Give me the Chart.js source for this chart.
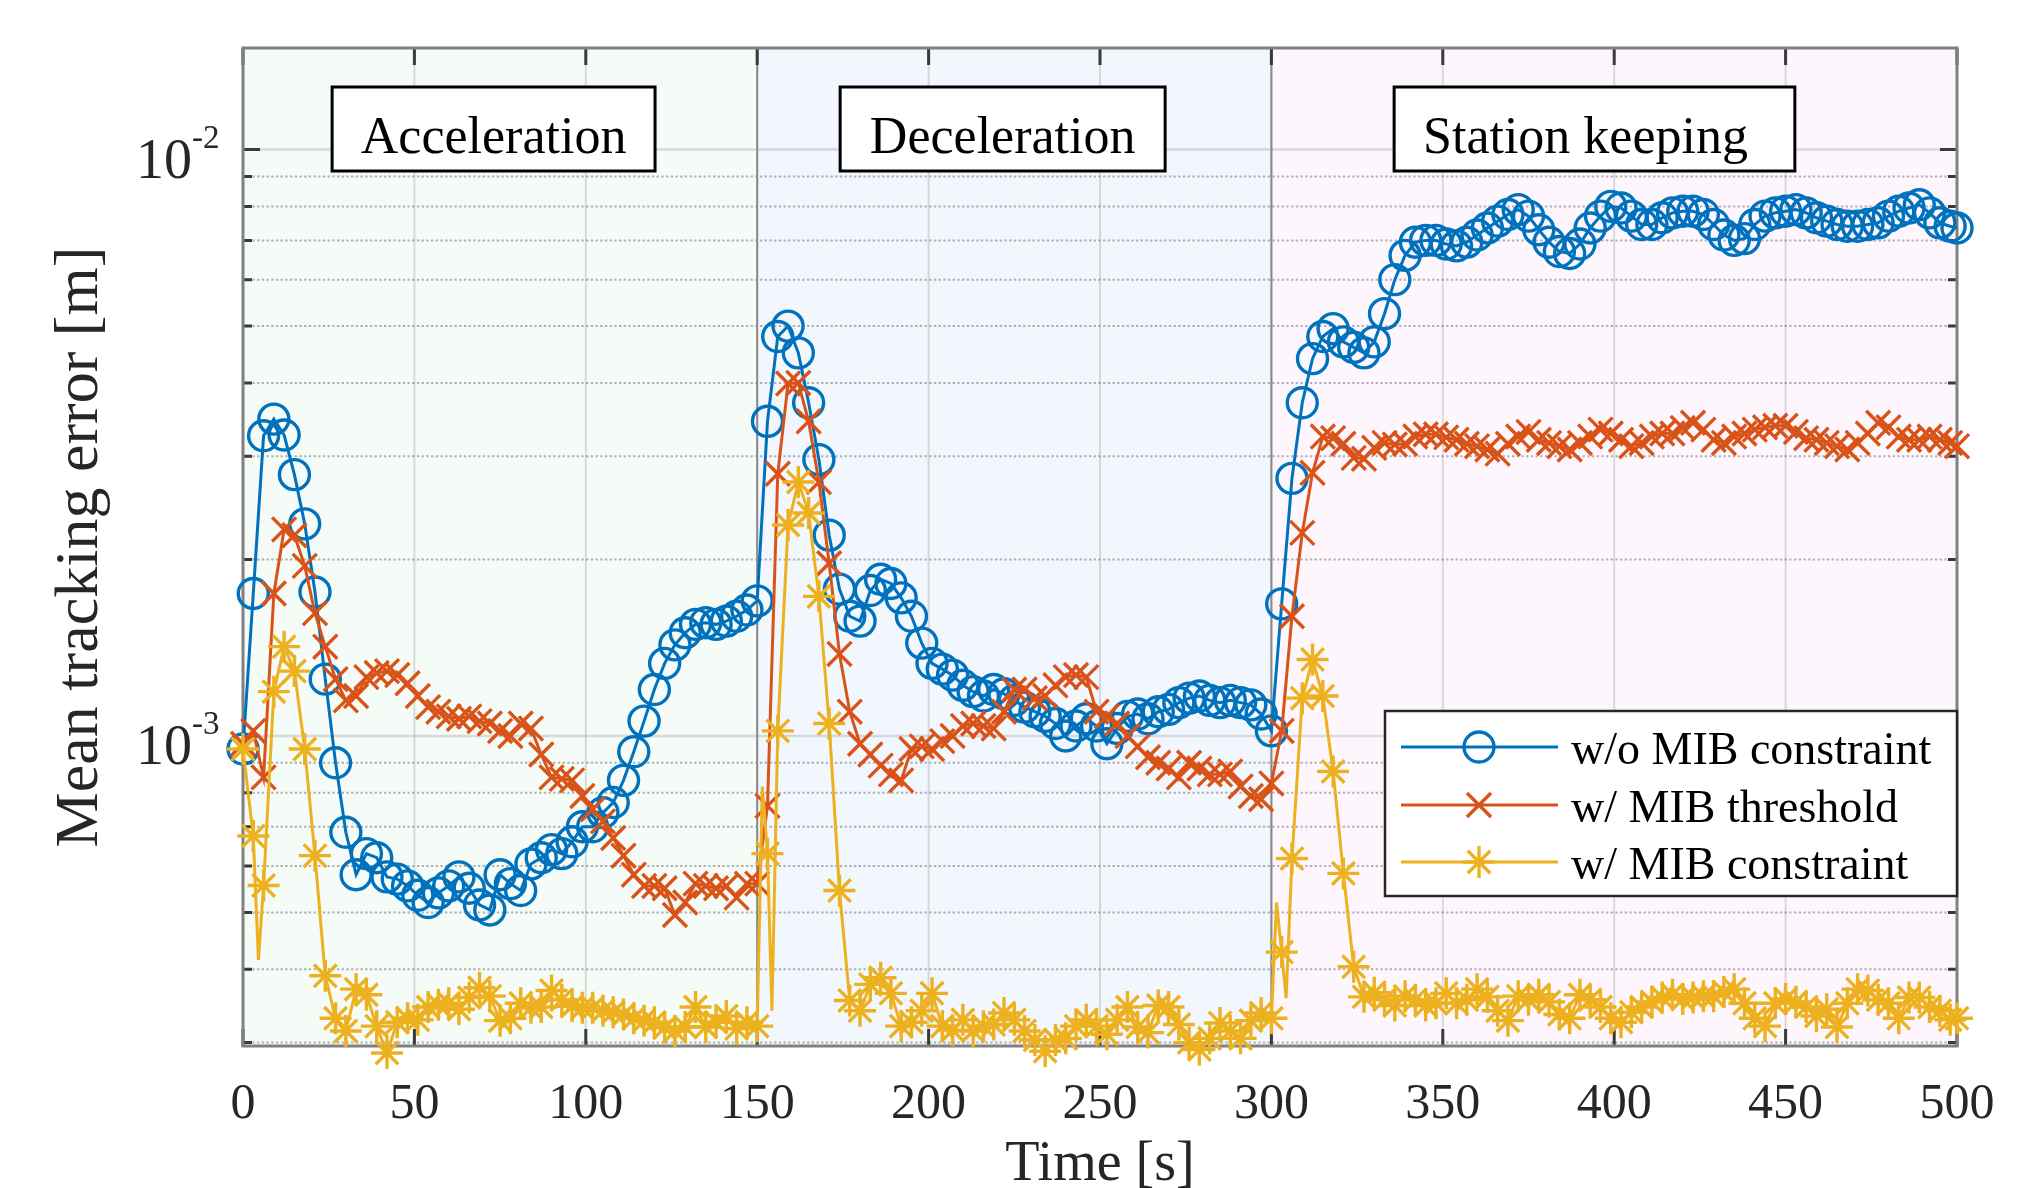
<!DOCTYPE html>
<html>
<head>
<meta charset="utf-8">
<title>Mean tracking error</title>
<script src="https://cdn.jsdelivr.net/npm/chart.js@4.4.1/dist/chart.umd.min.js"></script>
<style>
  html, body { margin: 0; padding: 0; background: #fff; }
  #wrap { width: 2020px; height: 1188px; }
</style>
</head>
<body>
<div id="wrap"><canvas id="errChart" width="2020" height="1188"></canvas></div>
<script>
// marker samples every 3 s, plus the last sample at 500 s
const sampleTimes = [];
for (let t = 0; t <= 498; t += 3) sampleTimes.push(t);
sampleTimes.push(500);

const xTickValues = [0, 50, 100, 150, 200, 250, 300, 350, 400, 450, 500];
const yGridValues = [3e-4, 4e-4, 5e-4, 6e-4, 7e-4, 8e-4, 9e-4, 1e-3,
  2e-3, 3e-3, 4e-3, 5e-3, 6e-3, 7e-3, 8e-3, 9e-3, 1e-2];
const yDecades = [1e-3, 1e-2];
const yExponents = ['-3', '-2'];

const phaseNames = ['Acceleration', 'Deceleration', 'Station keeping'];
const phaseEdges = [0, 150, 300, 500];
const seriesLabels = ['w/o MIB constraint', 'w/ MIB threshold', 'w/ MIB constraint'];

// w/o MIB constraint
const noMibAccel = [
  9.5e-4, 1.75e-3, 3.25e-3, 3.47e-3, 3.26e-3, 2.79e-3, 2.3e-3, 1.76e-3, 1.25e-3, 9.0e-4,
  6.85e-4, 5.8e-4, 6.3e-4, 6.2e-4, 5.75e-4, 5.7e-4, 5.55e-4, 5.35e-4, 5.2e-4, 5.4e-4,
  5.55e-4, 5.75e-4, 5.5e-4, 5.15e-4, 5.05e-4, 5.8e-4, 5.6e-4, 5.45e-4, 6.05e-4, 6.2e-4,
  6.4e-4, 6.3e-4, 6.6e-4, 7.0e-4, 7.0e-4, 7.4e-4, 7.7e-4, 8.4e-4, 9.4e-4, 1.06e-3,
  1.2e-3, 1.33e-3, 1.43e-3, 1.5e-3, 1.55e-3, 1.56e-3, 1.55e-3, 1.57e-3, 1.6e-3, 1.64e-3
];
const noMibDecel = [
  1.7e-3, 3.44e-3, 4.8e-3, 5.0e-3, 4.5e-3, 3.7e-3, 2.96e-3, 2.2e-3, 1.78e-3, 1.6e-3,
  1.57e-3, 1.77e-3, 1.85e-3, 1.82e-3, 1.72e-3, 1.6e-3, 1.44e-3, 1.33e-3, 1.3e-3, 1.27e-3,
  1.22e-3, 1.19e-3, 1.17e-3, 1.2e-3, 1.18e-3, 1.15e-3, 1.12e-3, 1.1e-3, 1.08e-3, 1.05e-3,
  1.0e-3, 1.04e-3, 1.07e-3, 1.04e-3, 9.7e-4, 1.03e-3, 1.08e-3, 1.09e-3, 1.07e-3, 1.1e-3,
  1.11e-3, 1.14e-3, 1.16e-3, 1.17e-3, 1.15e-3, 1.14e-3, 1.15e-3, 1.14e-3, 1.13e-3, 1.09e-3
];
const noMibStation = [
  1.02e-3, 1.68e-3, 2.75e-3, 3.7e-3, 4.4e-3, 4.8e-3, 4.95e-3, 4.7e-3, 4.6e-3, 4.5e-3,
  4.7e-3, 5.25e-3, 6.0e-3, 6.6e-3, 6.95e-3, 7.0e-3, 7.0e-3, 6.9e-3, 6.85e-3, 6.95e-3,
  7.15e-3, 7.35e-3, 7.55e-3, 7.75e-3, 7.9e-3, 7.7e-3, 7.3e-3, 6.95e-3, 6.7e-3, 6.65e-3,
  6.9e-3, 7.35e-3, 7.7e-3, 8.0e-3, 7.95e-3, 7.7e-3, 7.45e-3, 7.45e-3, 7.65e-3, 7.8e-3,
  7.85e-3, 7.85e-3, 7.75e-3, 7.45e-3, 7.15e-3, 7.0e-3, 7.05e-3, 7.45e-3, 7.7e-3, 7.8e-3,
  7.85e-3, 7.9e-3, 7.8e-3, 7.65e-3, 7.55e-3, 7.45e-3, 7.4e-3, 7.4e-3, 7.45e-3, 7.5e-3,
  7.7e-3, 7.85e-3, 7.95e-3, 8.05e-3, 7.8e-3, 7.5e-3, 7.4e-3,
  7.35e-3
];

// w/ MIB threshold
const thresholdAccel = [
  9.7e-4, 1.02e-3, 8.5e-4, 1.75e-3, 2.25e-3, 2.2e-3, 1.95e-3, 1.62e-3, 1.42e-3, 1.25e-3,
  1.15e-3, 1.17e-3, 1.26e-3, 1.28e-3, 1.29e-3, 1.27e-3, 1.23e-3, 1.17e-3, 1.12e-3, 1.1e-3,
  1.08e-3, 1.07e-3, 1.08e-3, 1.06e-3, 1.05e-3, 1.02e-3, 1.0e-3, 1.05e-3, 1.03e-3, 9.3e-4,
  8.5e-4, 8.45e-4, 8.4e-4, 7.9e-4, 7.5e-4, 7.15e-4, 6.7e-4, 6.25e-4, 5.8e-4, 5.55e-4,
  5.55e-4, 5.5e-4, 4.95e-4, 5.2e-4, 5.6e-4, 5.55e-4, 5.5e-4, 5.55e-4, 5.3e-4, 5.6e-4
];
const thresholdDecel = [
  5.6e-4, 7.6e-4, 2.8e-3, 3.99e-3, 4.0e-3, 3.44e-3, 2.71e-3, 1.97e-3, 1.38e-3, 1.1e-3,
  9.7e-4, 9.3e-4, 8.9e-4, 8.6e-4, 8.4e-4, 9.5e-4, 9.6e-4, 9.5e-4, 9.8e-4, 1.0e-3,
  1.04e-3, 1.05e-3, 1.04e-3, 1.03e-3, 1.1e-3, 1.2e-3, 1.2e-3, 1.16e-3, 1.17e-3, 1.22e-3,
  1.26e-3, 1.27e-3, 1.26e-3, 1.1e-3, 1.08e-3, 1.05e-3, 1.0e-3, 9.6e-4, 9.2e-4, 9.0e-4,
  8.8e-4, 8.5e-4, 9.0e-4, 8.8e-4, 8.6e-4, 8.6e-4, 8.7e-4, 8.2e-4, 7.9e-4, 7.8e-4
];
const thresholdStation = [
  8.3e-4, 1.02e-3, 1.6e-3, 2.22e-3, 2.81e-3, 3.24e-3, 3.22e-3, 3.15e-3, 2.98e-3, 2.97e-3,
  3.1e-3, 3.16e-3, 3.14e-3, 3.15e-3, 3.24e-3, 3.27e-3, 3.27e-3, 3.23e-3, 3.2e-3, 3.15e-3,
  3.12e-3, 3.08e-3, 3.03e-3, 3.15e-3, 3.24e-3, 3.3e-3, 3.2e-3, 3.16e-3, 3.12e-3, 3.08e-3,
  3.16e-3, 3.24e-3, 3.33e-3, 3.28e-3, 3.2e-3, 3.12e-3, 3.16e-3, 3.24e-3, 3.28e-3, 3.28e-3,
  3.35e-3, 3.42e-3, 3.33e-3, 3.2e-3, 3.16e-3, 3.24e-3, 3.28e-3, 3.33e-3, 3.36e-3, 3.38e-3,
  3.38e-3, 3.3e-3, 3.22e-3, 3.2e-3, 3.16e-3, 3.12e-3, 3.08e-3, 3.16e-3, 3.28e-3, 3.42e-3,
  3.36e-3, 3.24e-3, 3.2e-3, 3.2e-3, 3.24e-3, 3.2e-3, 3.16e-3,
  3.12e-3
];

// w/ MIB constraint
const constraintAccel = [
  9.5e-4, 6.75e-4, 5.56e-4, 1.19e-3, 1.42e-3, 1.29e-3, 9.5e-4, 6.25e-4, 3.9e-4, 3.3e-4,
  3.14e-4, 3.7e-4, 3.62e-4, 3.2e-4, 2.88e-4, 3.25e-4, 3.3e-4, 3.28e-4, 3.45e-4, 3.48e-4,
  3.5e-4, 3.42e-4, 3.58e-4, 3.72e-4, 3.6e-4, 3.27e-4, 3.3e-4, 3.5e-4, 3.44e-4, 3.45e-4,
  3.68e-4, 3.55e-4, 3.46e-4, 3.44e-4, 3.44e-4, 3.4e-4, 3.38e-4, 3.35e-4, 3.3e-4, 3.27e-4,
  3.25e-4, 3.18e-4, 3.14e-4, 3.19e-4, 3.45e-4, 3.19e-4, 3.25e-4, 3.33e-4, 3.17e-4, 3.25e-4
];
const constraintDecel = [
  3.2e-4, 6.3e-4, 1.02e-3, 2.29e-3, 2.71e-3, 2.4e-3, 1.73e-3, 1.05e-3, 5.45e-4, 3.54e-4,
  3.4e-4, 3.77e-4, 3.87e-4, 3.64e-4, 3.2e-4, 3.25e-4, 3.4e-4, 3.64e-4, 3.2e-4, 3.15e-4,
  3.28e-4, 3.14e-4, 3.2e-4, 3.22e-4, 3.37e-4, 3.28e-4, 3.14e-4, 3.03e-4, 2.9e-4, 3.03e-4,
  3.05e-4, 3.2e-4, 3.28e-4, 3.2e-4, 3.1e-4, 3.28e-4, 3.45e-4, 3.19e-4, 3.12e-4, 3.47e-4,
  3.45e-4, 3.22e-4, 3.0e-4, 2.92e-4, 3.05e-4, 3.24e-4, 3.14e-4, 3.05e-4, 3.27e-4, 3.37e-4
];
const constraintStation = [
  3.3e-4, 4.28e-4, 6.18e-4, 1.16e-3, 1.35e-3, 1.17e-3, 8.7e-4, 5.83e-4, 4.04e-4, 3.59e-4,
  3.65e-4, 3.55e-4, 3.47e-4, 3.6e-4, 3.55e-4, 3.47e-4, 3.5e-4, 3.64e-4, 3.5e-4, 3.55e-4,
  3.7e-4, 3.59e-4, 3.4e-4, 3.27e-4, 3.6e-4, 3.55e-4, 3.62e-4, 3.52e-4, 3.35e-4, 3.3e-4,
  3.62e-4, 3.55e-4, 3.45e-4, 3.3e-4, 3.25e-4, 3.38e-4, 3.45e-4, 3.52e-4, 3.58e-4, 3.62e-4,
  3.56e-4, 3.58e-4, 3.6e-4, 3.6e-4, 3.66e-4, 3.7e-4, 3.5e-4, 3.3e-4, 3.2e-4, 3.5e-4,
  3.56e-4, 3.52e-4, 3.45e-4, 3.33e-4, 3.42e-4, 3.19e-4, 3.5e-4, 3.7e-4, 3.68e-4, 3.55e-4,
  3.5e-4, 3.3e-4, 3.58e-4, 3.58e-4, 3.45e-4, 3.4e-4, 3.28e-4,
  3.3e-4
];
// line-only samples (no marker) where the yellow trace spikes between markers
const constraintSpikeTimes = [4.5, 151.5, 154.3, 301.5, 304.3];
const constraintSpikeVals = [4.15e-4, 8.2e-4, 3.4e-4, 5.2e-4, 3.57e-4];

const COLORS = ['#0072BD', '#D95319', '#EDB120'];
const PHASE_FILLS = ['#f5fbf6', '#f2f7fd', '#fdf7fd'];
const SERIF = '"Liberation Serif", "Times New Roman", serif';
const MARKERS = [
  { style: 'circle', radius: 15 },
  { style: 'crossRot', radius: 17 },
  { style: 'star', radius: 16 }
];
// annotation boxes in seconds along x, with a small text nudge in px
const phaseBoxes = [[26, 120.2, 0], [174.2, 269, 0], [335.8, 452.7, -9]];

function toPoints(vals, extraT, extraV) {
  const pts = sampleTimes.map((t, i) => ({ x: t, y: vals[i], m: true }));
  if (extraT) extraT.forEach((t, i) => pts.push({ x: t, y: extraV[i], m: false }));
  pts.sort((a, b) => a.x - b.x);
  return pts;
}

const seriesData = [
  toPoints(noMibAccel.concat(noMibDecel, noMibStation)),
  toPoints(thresholdAccel.concat(thresholdDecel, thresholdStation)),
  toPoints(constraintAccel.concat(constraintDecel, constraintStation), constraintSpikeTimes, constraintSpikeVals)
];

const datasets = seriesData.map((data, i) => ({
  label: seriesLabels[i],
  data: data,
  borderColor: COLORS[i],
  backgroundColor: COLORS[i],
  borderWidth: 3,
  tension: 0,
  pointStyle: MARKERS[i].style,
  pointRadius: (ctx) => (ctx.raw && ctx.raw.m ? MARKERS[i].radius : 0),
  pointHoverRadius: 0,
  pointBorderColor: COLORS[i],
  pointBackgroundColor: 'rgba(0,0,0,0)',
  pointBorderWidth: 3.4,
  clip: false,
  order: 3 - i
}));

const axesPlugin = {
  id: 'matlabAxes',
  beforeDatasetsDraw(chart) {
    const { ctx, chartArea: a, scales: { x, y } } = chart;
    ctx.save();
    // phase shading
    for (let i = 0; i < 3; i++) {
      const x0 = x.getPixelForValue(phaseEdges[i]);
      const x1 = x.getPixelForValue(phaseEdges[i + 1]);
      ctx.fillStyle = PHASE_FILLS[i];
      ctx.fillRect(x0, a.top, x1 - x0, a.bottom - a.top);
    }
    // vertical grid
    ctx.strokeStyle = 'rgba(38,38,38,0.15)';
    ctx.lineWidth = 2;
    xTickValues.forEach(v => {
      if (v === 0 || v === 500) return;
      const px = x.getPixelForValue(v);
      ctx.beginPath(); ctx.moveTo(px, a.top); ctx.lineTo(px, a.bottom); ctx.stroke();
    });
    // horizontal grid
    yGridValues.forEach(v => {
      const py = y.getPixelForValue(v);
      if (py < a.top || py > a.bottom + 0.5) return;
      const major = yDecades.includes(v);
      ctx.beginPath();
      if (major) {
        ctx.setLineDash([]);
        ctx.strokeStyle = 'rgba(38,38,38,0.15)';
        ctx.lineWidth = 2.5;
      } else {
        ctx.setLineDash([2.3, 2.4]);
        ctx.strokeStyle = 'rgba(38,38,38,0.34)';
        ctx.lineWidth = 2;
      }
      ctx.moveTo(a.left, py); ctx.lineTo(a.right, py); ctx.stroke();
    });
    ctx.setLineDash([]);
    // phase separators
    ctx.strokeStyle = '#8a8a8a';
    ctx.lineWidth = 2;
    [150, 300].forEach(v => {
      const px = x.getPixelForValue(v);
      ctx.beginPath(); ctx.moveTo(px, a.top); ctx.lineTo(px, a.bottom); ctx.stroke();
    });
    // inner ticks
    ctx.strokeStyle = '#3a3a3a';
    ctx.lineWidth = 3;
    xTickValues.forEach(v => {
      const px = x.getPixelForValue(v);
      ctx.beginPath();
      ctx.moveTo(px, a.bottom); ctx.lineTo(px, a.bottom - 17);
      ctx.moveTo(px, a.top); ctx.lineTo(px, a.top + 17);
      ctx.stroke();
    });
    yGridValues.forEach(v => {
      const py = y.getPixelForValue(v);
      if (py < a.top || py > a.bottom + 0.5) return;
      const len = yDecades.includes(v) ? 17 : 9;
      ctx.beginPath();
      ctx.moveTo(a.left, py); ctx.lineTo(a.left + len, py);
      ctx.moveTo(a.right, py); ctx.lineTo(a.right - len, py);
      ctx.stroke();
    });
    // axes box
    ctx.strokeStyle = '#808080';
    ctx.lineWidth = 3;
    ctx.strokeRect(a.left, a.top, a.right - a.left, a.bottom - a.top);
    ctx.restore();
  },
  afterDraw(chart) {
    const { ctx, chartArea: a, scales: { x, y } } = chart;
    ctx.save();
    // phase labels
    phaseBoxes.forEach((b, i) => {
      const x0 = x.getPixelForValue(b[0]);
      const x1 = x.getPixelForValue(b[1]);
      const y0 = a.top + 39, y1 = a.top + 123;
      ctx.fillStyle = '#fff';
      ctx.fillRect(x0, y0, x1 - x0, y1 - y0);
      ctx.strokeStyle = '#000';
      ctx.lineWidth = 3;
      ctx.strokeRect(x0, y0, x1 - x0, y1 - y0);
      ctx.fillStyle = '#000';
      ctx.font = '52px ' + SERIF;
      ctx.textAlign = 'center';
      ctx.textBaseline = 'alphabetic';
      ctx.fillText(phaseNames[i], (x0 + x1) / 2 + b[2], a.top + 105);
    });
    // legend
    const lx0 = a.right - 572, ly0 = a.bottom - 335, ly1 = a.bottom - 150;
    ctx.fillStyle = '#fff';
    ctx.fillRect(lx0, ly0, a.right - lx0, ly1 - ly0);
    ctx.strokeStyle = '#262626';
    ctx.lineWidth = 2.5;
    ctx.strokeRect(lx0, ly0, a.right - lx0, ly1 - ly0);
    const rows = [a.bottom - 299, a.bottom - 241, a.bottom - 184];
    rows.forEach((ry, i) => {
      ctx.strokeStyle = COLORS[i];
      ctx.lineWidth = 3;
      ctx.beginPath(); ctx.moveTo(a.right - 556, ry); ctx.lineTo(a.right - 399, ry); ctx.stroke();
      ctx.fillStyle = 'rgba(0,0,0,0)';
      ctx.lineWidth = 3.4;
      Chart.helpers.drawPoint(ctx, { pointStyle: MARKERS[i].style, radius: MARKERS[i].radius, borderWidth: 3.4, rotation: 0 }, a.right - 478, ry);
      ctx.fillStyle = '#000';
      ctx.font = '46px ' + SERIF;
      ctx.textAlign = 'left';
      ctx.textBaseline = 'alphabetic';
      ctx.fillText(seriesLabels[i], a.right - 386, ry + 17);
    });
    // x tick labels
    ctx.fillStyle = '#262626';
    ctx.font = '50px ' + SERIF;
    ctx.textAlign = 'center';
    ctx.textBaseline = 'alphabetic';
    xTickValues.forEach(v => {
      ctx.fillText(String(v), x.getPixelForValue(v), a.bottom + 72);
    });
    // y tick labels 10^n
    yDecades.forEach((v, i) => {
      const py = y.getPixelForValue(v);
      ctx.font = '56px ' + SERIF;
      ctx.textAlign = 'right';
      ctx.fillText('10', a.left - 51, py + 28);
      ctx.font = '33px ' + SERIF;
      ctx.textAlign = 'left';
      ctx.fillText(yExponents[i], a.left - 51, py - 2);
    });
    // axis titles
    ctx.font = '56px ' + SERIF;
    ctx.textAlign = 'center';
    ctx.fillText('Time [s]', (a.left + a.right) / 2, a.bottom + 134);
    ctx.translate(97, (a.top + a.bottom) / 2);
    ctx.rotate(-Math.PI / 2);
    ctx.font = '62px ' + SERIF;
    ctx.fillText('Mean tracking error [m]', 0, 0);
    ctx.restore();
  }
};

const chart = new Chart(document.getElementById('errChart'), {
  type: 'line',
  data: { datasets: datasets },
  options: {
    responsive: false,
    animation: false,
    devicePixelRatio: 1,
    events: [],
    layout: { padding: { left: 243, right: 63, top: 48, bottom: 142 } },
    scales: {
      x: {
        type: 'linear',
        min: 0,
        max: 500,
        afterFit: (s) => { s.height = 0; },
        ticks: { display: false },
        grid: { display: false, drawTicks: false },
        border: { display: false }
      },
      y: {
        type: 'logarithmic',
        min: 2.96e-4,
        max: 0.0149,
        afterFit: (s) => { s.width = 0; },
        ticks: { display: false },
        grid: { display: false, drawTicks: false },
        border: { display: false }
      }
    },
    plugins: {
      legend: { display: false },
      tooltip: { enabled: false }
    }
  },
  plugins: [axesPlugin]
});
</script>
</body>
</html>
